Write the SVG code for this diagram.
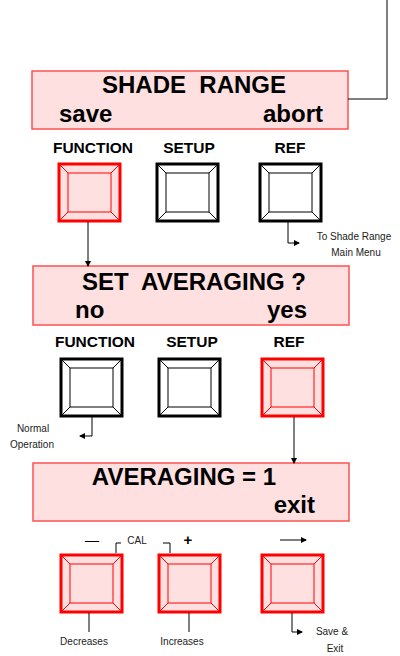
<svg xmlns="http://www.w3.org/2000/svg" xmlns:xlink="http://www.w3.org/1999/xlink" width="400" height="656" viewBox="0 0 400 656">
<style>
.disp{fill:#FFE0E0;stroke:#FF5050;stroke-width:1.5}
.big{font-family:"Liberation Sans",Arial,sans-serif;font-weight:bold;font-size:24px;fill:#000;white-space:pre}
.lbl{font-family:"Liberation Sans",Arial,sans-serif;font-weight:bold;font-size:15.5px;fill:#000;text-anchor:middle}
.sm{font-family:"Liberation Sans",Arial,sans-serif;font-size:10px;fill:#222;text-anchor:middle}
.blk{fill:#fff;stroke:#000}
.red{fill:#FFE0E0;stroke:#F00}
.con{fill:none;stroke:#000;stroke-width:1}
</style>
<defs>
<g id="btn">
<rect x="0" y="0" width="61" height="57" stroke-width="3"/>
<rect x="9" y="9" width="43" height="39" stroke-width="1"/>
<path d="M0 0L9 9M61 0L52 9M0 57L9 48M61 57L52 48" stroke-width="1"/>
</g>
<marker id="ah" markerWidth="6" markerHeight="6" refX="5" refY="3" orient="auto" markerUnits="userSpaceOnUse">
<path d="M0 0L6 3L0 6Z" fill="#000"/>
</marker>
</defs>
<g id="display1">
<rect class="disp" x="32" y="71" width="316" height="58"/>
<text class="big" x="194" y="93" text-anchor="middle">SHADE  RANGE</text>
<text class="big" x="59" y="122">save</text>
<text class="big" x="323" y="122" text-anchor="end">abort</text>
</g>
<g id="display2">
<rect class="disp" x="33" y="266" width="316" height="59"/>
<text class="big" x="194" y="290" text-anchor="middle">SET  AVERAGING ?</text>
<text class="big" x="75" y="318">no</text>
<text class="big" x="307" y="318" text-anchor="end">yes</text>
</g>
<g id="display3">
<rect class="disp" x="33" y="463" width="316" height="58"/>
<text class="big" x="184" y="485" text-anchor="middle">AVERAGING = 1</text>
<text class="big" x="315" y="513" text-anchor="end">exit</text>
</g>
<g id="row1-function"><text class="lbl" x="93" y="153">FUNCTION</text><use xlink:href="#btn" href="#btn" x="59" y="164" class="red"/></g>
<g id="row1-setup"><text class="lbl" x="189" y="153">SETUP</text><use xlink:href="#btn" href="#btn" x="157" y="164" class="blk"/></g>
<g id="row1-ref"><text class="lbl" x="290" y="153">REF</text><use xlink:href="#btn" href="#btn" x="260" y="164" class="blk"/></g>
<g id="row2-function"><text class="lbl" x="95" y="347">FUNCTION</text><use xlink:href="#btn" href="#btn" x="61" y="359" class="blk"/></g>
<g id="row2-setup"><text class="lbl" x="192" y="347">SETUP</text><use xlink:href="#btn" href="#btn" x="159" y="359" class="blk"/></g>
<g id="row2-ref"><text class="lbl" x="289" y="347">REF</text><use xlink:href="#btn" href="#btn" x="262" y="359" class="red"/></g>
<g id="row3-minus"><text x="92" y="545" style="font-family:'Liberation Sans',Arial,sans-serif;font-size:14px;text-anchor:middle">—</text><use xlink:href="#btn" href="#btn" x="61" y="555" class="red"/></g>
<g id="row3-plus"><text x="188" y="545" style="font-family:'Liberation Sans',Arial,sans-serif;font-size:15px;font-weight:bold;text-anchor:middle">+</text><use xlink:href="#btn" href="#btn" x="159" y="555" class="red"/></g>
<g id="row3-arrow"><use xlink:href="#btn" href="#btn" x="262" y="555" class="red"/></g>
<g id="notes">
<text class="sm" x="354" y="240">To Shade Range</text>
<text class="sm" x="356" y="256">Main Menu</text>
<text class="sm" x="33" y="432">Normal</text>
<text class="sm" x="32" y="448">Operation</text>
<text class="sm" x="137" y="544">CAL</text>
<text class="sm" x="84" y="645">Decreases</text>
<text class="sm" x="182" y="645">Increases</text>
<text class="sm" x="332" y="635">Save &amp;</text>
<text class="sm" x="335" y="652">Exit</text>
</g>
<g id="connectors">
<path class="con" d="M348 99H387V0"/>
<path class="con" d="M88 222V266" marker-end="url(#ah)"/>
<path class="con" d="M288 222V243H299" marker-end="url(#ah)"/>
<path class="con" d="M92 417V436H80" marker-end="url(#ah)"/>
<path class="con" d="M294 417V463" marker-end="url(#ah)" stroke="#444"/>
<path class="con" d="M89 613V632"/>
<path class="con" d="M189 613V632"/>
<path class="con" d="M292 613V632H302" marker-end="url(#ah)"/>
<path class="con" d="M116 553V543H121M163 543H170V553"/>
<path class="con" d="M280 540H306" marker-end="url(#ah)"/>
</g>
</svg>
